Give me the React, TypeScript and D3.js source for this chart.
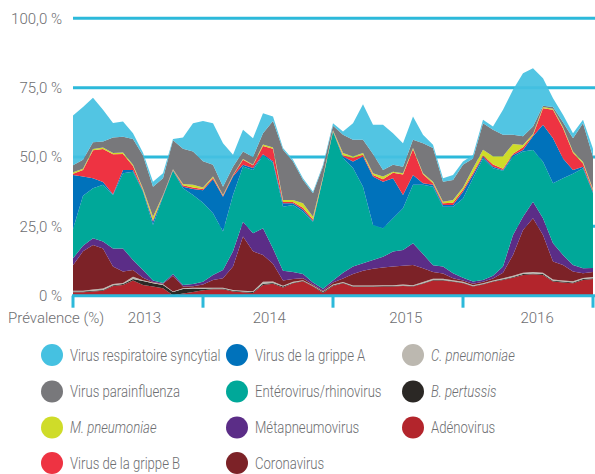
import React, { useMemo } from "react"
import * as d3 from "d3"

const WIDTH = 595
const HEIGHT = 474

// roughly one reading every four weeks; index / 13 = years since the first tick
const adenovirus = [1.2, 1.2, 1.5, 1.8, 3.5, 3.9, 5.5, 3.9, 3.3, 2.7, 0.2, 0.8, 1.3, 2, 2.3, 2.3, 1.5, 1.2, 1, 3.9, 4.3, 3, 4.5, 5.2, 3.3, 1, 3.5, 4.5, 3.2, 3.2, 3.2, 3.3, 3.3, 3.5, 3.3, 4.3, 5.5, 5.5, 5, 4.5, 3.3, 4, 5, 5.7, 6.5, 7.5, 7.7, 7.5, 5.1, 4.8, 4.5, 5.7, 6]
const bPertussis = [0.3, 0.3, 0.3, 0.3, 0.3, 0.3, 0.5, 1.4, 1.2, 1.2, 1.1, 1.6, 1.3, 0.5, 0.3, 0.3, 0.3, 0.3, 0.3, 0.4, 0.3, 0.3, 0.2, 0.2, 0.2, 0.3, 0.3, 0.2, 0.2, 0.2, 0.2, 0.2, 0.2, 0.2, 0.2, 0.2, 0.2, 0.2, 0.2, 0.2, 0.2, 0.2, 0.2, 0.2, 0.2, 0.3, 0.3, 0.3, 0.3, 0.3, 0.3, 0.3, 0.3]
const cPneumoniae = [0.3, 0.3, 0.4, 0.5, 0.4, 0.4, 0.8, 0.3, 0.3, 0.2, 0.2, 0.3, 0.3, 0.4, 0.3, 0.3, 0.3, 0.3, 0.3, 0.7, 0.5, 0.3, 0.3, 0.2, 0.2, 0.2, 0.2, 0.2, 0.3, 0.3, 0.3, 0.3, 0.3, 0.3, 0.3, 0.4, 0.4, 0.4, 0.4, 0.3, 0.3, 0.3, 0.3, 0.4, 0.5, 0.5, 0.5, 0.5, 0.4, 0.4, 0.4, 0.4, 0.4]
const coronavirus = [9.2, 14.2, 16.1, 14.4, 6.3, 4.1, 2.5, 0.9, 0.1, 0.2, 5.7, 0.6, 0.5, 1.1, 2.8, 3.4, 8.4, 19.5, 14.4, 9.7, 6.4, 1.9, 1, 0.7, 0.3, 0.3, 0.8, 1.3, 4.1, 5.3, 6, 6.4, 6.7, 6.8, 7.3, 5, 2.4, 1.9, 0.7, 0.5, 0.5, 0.5, 0.7, 2, 7.5, 15.4, 19.4, 13.6, 6.5, 5.6, 3.5, 1.7, 1.8]
const metapneumovirus = [2.5, 2, 2.4, 2.5, 6.5, 8.3, 3.6, 2.8, 0.6, 0.3, 0.6, 0.6, 0.8, 1, 1.8, 3, 5.5, 5.4, 6.5, 9.6, 5.5, 3.5, 2.5, 1.5, 0.8, 0.7, 0.7, 2.1, 2.7, 2.7, 3.2, 3.8, 5.4, 5.7, 7.8, 5.1, 2.5, 2.5, 1.8, 1, 0.8, 0.7, 1, 2.2, 7.2, 4.8, 6, 6, 6.6, 3.6, 2.4, 1.8, 1.5]
const enterovirus = [10.5, 18, 18, 20.5, 19.3, 27.1, 31.8, 28.2, 20, 31.1, 37.2, 34.8, 32.1, 28.5, 22.2, 13.8, 20.3, 19.9, 22.8, 26.2, 31, 23.1, 24.2, 22.5, 21.9, 39.8, 53.7, 41.3, 35.5, 27.6, 12.6, 10.3, 12, 15, 21.1, 25, 28.3, 21.6, 24, 28.5, 37.2, 43.8, 38.7, 34.5, 28.2, 23.5, 18.6, 20.4, 21.6, 27.6, 32.9, 36, 27]
const grippeA = [19.5, 7, 3.6, 1, 0.3, 1.2, 0.6, 0.3, 1.2, 0.2, 0.2, 0.6, 2.2, 4.5, 12.3, 12.6, 6.7, 0.6, 0.7, 0.5, 0.5, 1.2, 0.6, 0.7, 0.2, 0.1, 0.1, 0.6, 2.4, 10.9, 17.5, 16.8, 14.4, 4.8, 3.5, 0.5, 0.7, 0.6, 0.6, 2.5, 1.2, 0.6, 0.6, 0.3, 0.6, 0.5, 5, 13.3, 16.3, 7.2, 1.3, 0.6, 0.5]
const grippeB = [0.5, 2.3, 10.1, 11.9, 14.4, 5.8, 1.5, 0.3, 0.5, 0.2, 0.2, 0.5, 0.5, 0.5, 0.5, 0.3, 0.3, 1.8, 1, 3, 4.5, 0.5, 0.5, 0.7, 0.6, 0.2, 0.1, 0.4, 1.3, 0.6, 0.5, 0.9, 2, 7.4, 9.3, 3.3, 0.5, 0.6, 0.8, 0.7, 0.7, 0.5, 0.8, 0.5, 0.5, 1, 0.3, 6, 10.2, 10.9, 6.2, 1.2, 0.5]
const mPneumoniae = [0.5, 0.5, 0.5, 0.5, 0.4, 0.5, 0.4, 0.5, 1.3, 0.2, 0.2, 0.5, 1, 0.5, 0.5, 0.3, 0.2, 0.3, 0.2, 0.5, 0.4, 0.7, 0.7, 1.6, 1, 0.4, 0.2, 0.8, 0.5, 0.6, 0.6, 1, 0.4, 0.4, 0.4, 0.3, 0.6, 0.6, 1, 0.8, 1.7, 2, 3, 4.5, 3.5, 0.8, 0.5, 0.4, 0.4, 0.4, 0.5, 0.5, 0.5]
const parainfluenza = [2.5, 3.2, 2.4, 2.2, 5.6, 5.7, 9.3, 11.9, 10.8, 6, 10.4, 12.7, 12, 9.5, 4.2, 3, 3, 2.7, 2.8, 4.1, 9.6, 18.1, 13.9, 8.4, 8.4, 3.6, 1.7, 6.6, 6, 4.8, 7, 2.3, 2.5, 2.4, 3, 10.9, 12.1, 7.2, 7.2, 8.2, 3.6, 9.6, 9.5, 7.7, 3.3, 3.2, 2.7, 0.5, 0.6, 1.7, 4.8, 14, 11.5]
const rsv = [18, 19, 16.1, 11.4, 5.3, 5.5, 2.1, 1, 1.8, 1.8, 0.5, 4, 10.2, 14.5, 15, 15.7, 4.3, 7.8, 6.8, 7.2, 1.6, 0.6, 0.6, 0.6, 0.6, 0.6, 0.9, 1.2, 6, 12.8, 10.5, 16.3, 11.4, 8.5, 8.4, 3, 1.2, 1.2, 1.8, 1.2, 1.2, 1.2, 1.2, 9, 16.2, 22.7, 21, 9.9, 3.2, 2.7, 1.8, 1.2, 3]

const yTicks = [0, 25, 50, 75, 100]
const yTickLabels = ["0 %", "25,0 %", "50,0 %", "75,0 %", "100,0 %"]
const yearTicks = [0, 1, 2, 3, 4]
const yearLabels = ["2013", "2014", "2015", "2016"]
const yearLabelPos = [0.55, 1.51, 2.56, 3.57]

const series = [
  { key: "adeno", label: "Adénovirus", color: "#b3252c", values: adenovirus, italic: false },
  { key: "bpert", label: "B. pertussis", color: "#2b2825", values: bPertussis, italic: true },
  { key: "cpneu", label: "C. pneumoniae", color: "#bcb8b0", values: cPneumoniae, italic: true },
  { key: "corona", label: "Coronavirus", color: "#7c2227", values: coronavirus, italic: false },
  { key: "meta", label: "Métapneumovirus", color: "#5b2d87", values: metapneumovirus, italic: false },
  { key: "entero", label: "Entérovirus/rhinovirus", color: "#00a899", values: enterovirus, italic: false },
  { key: "fluA", label: "Virus de la grippe A", color: "#0072bb", values: grippeA, italic: false },
  { key: "fluB", label: "Virus de la grippe B", color: "#ee3342", values: grippeB, italic: false },
  { key: "mpneu", label: "M. pneumoniae", color: "#cfdc29", values: mPneumoniae, italic: true },
  { key: "para", label: "Virus parainfluenza", color: "#78787b", values: parainfluenza, italic: false },
  { key: "rsv", label: "Virus respiratoire syncytial", color: "#45c1e1", values: rsv, italic: false },
]

// legend columns, as in the figure
const legendColumns = [
  ["rsv", "para", "mpneu", "fluB"],
  ["fluA", "entero", "meta", "corona"],
  ["cpneu", "bpert", "adeno"],
]

const FONT = "Roboto, sans-serif"
const TEXT = "#6d6e71"
const GRID = "#2cb9da"
const SQUEEZE = 0.82 // the original uses a condensed face

export default function App() {
  const x = useMemo(() => d3.scaleLinear().domain([0, 4]).range([73, 593]), [])
  const y = useMemo(() => d3.scaleLinear().domain([0, 100]).range([295.7, 18.3]), [])

  const stacked = useMemo(() => {
    const rows = adenovirus.map((_, i) => {
      const r: Record<string, number> = { t: i / 13 }
      series.forEach((s) => (r[s.key] = s.values[i]))
      return r
    })
    return d3.stack<Record<string, number>>().keys(series.map((s) => s.key))(rows)
  }, [])

  const area = d3
    .area<d3.SeriesPoint<Record<string, number>>>()
    .x((d) => x(d.data.t))
    .y0((d) => y(d[0]))
    .y1((d) => y(d[1]))
    .curve(d3.curveLinear)

  const byKey = Object.fromEntries(series.map((s) => [s.key, s]))
  const colX = [52, 237, 413]
  const rowY = [355, 391.5, 427.5, 463]

  return (
    <svg
      width={WIDTH}
      height={HEIGHT}
      style={{ position: "absolute", left: 0, top: 0, background: "#fff" }}
      fontFamily={FONT}
      fontWeight={300}
    >
      {yTicks
        .filter((v) => v > 0)
        .map((v) => (
          <line key={v} x1={73} x2={WIDTH} y1={y(v)} y2={y(v)} stroke={GRID} strokeWidth={3} />
        ))}

      {stacked.map((layer, i) => (
        <path
          key={layer.key}
          d={area(layer) || ""}
          fill={series[i].color}
          fillOpacity={series[i].key === "rsv" ? 0.93 : 1}
        />
      ))}

      <line x1={72} x2={WIDTH} y1={y(0)} y2={y(0)} stroke={GRID} strokeWidth={3} />
      {yearTicks.map((t) => (
        <line key={t} x1={x(t)} x2={x(t)} y1={y(0)} y2={y(0) + 12} stroke={GRID} strokeWidth={3} />
      ))}

      {yTicks.map((v, i) => (
        <text key={v} x={62} y={y(v)} dy="0.35em" textAnchor="end" fontSize={15} fill={TEXT}>
          {yTickLabels[i]}
        </text>
      ))}

      <text x={8} y={318} dy="0.35em" fontSize={15} fill={TEXT}>
        Prévalence (%)
      </text>
      {yearLabels.map((l, i) => (
        <text key={l} x={x(yearLabelPos[i])} y={318} dy="0.35em" textAnchor="middle" fontSize={15} fill={TEXT}>
          {l}
        </text>
      ))}

      {legendColumns.map((col, ci) =>
        col.map((k, ri) => {
          const s = byKey[k]
          return (
            <g key={k} transform={`translate(${colX[ci]},${rowY[ri]})`}>
              <circle r={11} fill={s.color} />
              <text
                transform={`translate(18,0) scale(${SQUEEZE},1)`}
                dy="0.35em"
                fontSize={16}
                fill={TEXT}
                fontStyle={s.italic ? "italic" : "normal"}
              >
                {s.label}
              </text>
            </g>
          )
        }),
      )}
    </svg>
  )
}
